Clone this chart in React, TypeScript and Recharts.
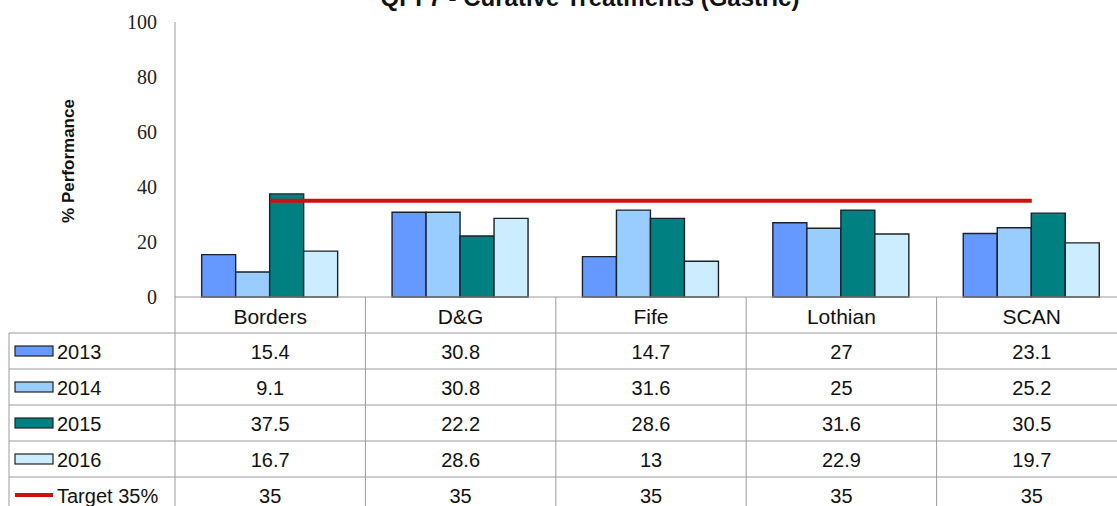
import React from 'react';
import { ComposedChart, Bar, Line, XAxis, YAxis } from 'recharts';

const categories = ['Borders', 'D&G', 'Fife', 'Lothian', 'SCAN'];
const v2013 = [15.4, 30.8, 14.7, 27, 23.1];
const v2014 = [9.1, 30.8, 31.6, 25, 25.2];
const v2015 = [37.5, 22.2, 28.6, 31.6, 30.5];
const v2016 = [16.7, 28.6, 13, 22.9, 19.7];
const target = [35, 35, 35, 35, 35];
const yTicks = [0, 20, 40, 60, 80, 100];

const seriesNames = ['2013', '2014', '2015', '2016', 'Target 35%'];
const seriesKeys = ['y2013', 'y2014', 'y2015', 'y2016', 'target'];
const seriesValues = [v2013, v2014, v2015, v2016, target];
const colors = ['#6699FF', '#99CCFF', '#008080', '#CCECFF', '#CC1111'];

const data = categories.map((name, i) => ({
  name,
  y2013: v2013[i],
  y2014: v2014[i],
  y2015: v2015[i],
  y2016: v2016[i],
  target: target[i],
}));

const CHART_W = 1130;
const CHART_H = 513;
const M_LEFT = 0;
const M_RIGHT = 3;
const Y_W = 175;
const ROW_H = 36;
const CAT_W = (CHART_W - M_LEFT - M_RIGHT - Y_W) / categories.length;
const TABLE_LEFT = 9;
const GRID = '#9a9a9a';
const FONT = '"Liberation Sans", Arial, sans-serif';

const HeaderTick = (props: any) => {
  const { x, y, payload, index } = props;
  const left = x - CAT_W / 2;
  const right = x + CAT_W / 2;
  return (
    <g>
      {index === 0 && <line x1={left} y1={y} x2={left} y2={y + ROW_H} stroke={GRID} strokeWidth={1} />}
      <line x1={right} y1={y} x2={right} y2={y + ROW_H} stroke={GRID} strokeWidth={1} />
      <text x={x} y={y + 19} textAnchor="middle" dominantBaseline="central" fontFamily={FONT} fontSize={21} fill="#111">
        {payload.value}
      </text>
    </g>
  );
};

const makeRowTick = (row: number) => (props: any) => {
  const { x, y, index } = props;
  const left = x - CAT_W / 2;
  const right = x + CAT_W / 2;
  const cy = y + ROW_H / 2;
  const val = seriesValues[row][index];
  return (
    <g>
      {index === 0 && (
        <g>
          <line x1={TABLE_LEFT} y1={y} x2={left} y2={y} stroke={GRID} strokeWidth={1} />
          <line x1={TABLE_LEFT} y1={y} x2={TABLE_LEFT} y2={y + ROW_H} stroke={GRID} strokeWidth={1} />
          <line x1={left} y1={y} x2={left} y2={y + ROW_H} stroke={GRID} strokeWidth={1} />
          {row < 4 ? (
            <rect x={15} y={cy - 5} width={38} height={10} fill={colors[row]} stroke="#222" strokeWidth={1.2} />
          ) : (
            <line x1={15} y1={cy} x2={53} y2={cy} stroke={colors[row]} strokeWidth={4} />
          )}
          <text x={57} y={cy + 1} textAnchor="start" dominantBaseline="central" fontFamily={FONT} fontSize={20} fill="#111">
            {seriesNames[row]}
          </text>
        </g>
      )}
      <line x1={right} y1={y} x2={right} y2={y + ROW_H} stroke={GRID} strokeWidth={1} />
      <text x={x} y={cy + 1} textAnchor="middle" dominantBaseline="central" fontFamily={FONT} fontSize={20} fill="#111">
        {String(val)}
      </text>
    </g>
  );
};

const rowTicks = [0, 1, 2, 3, 4].map((r) => makeRowTick(r));

const YLabel = () => (
  <text
    x={68}
    y={161}
    transform="rotate(-90, 68, 161)"
    textAnchor="middle"
    dominantBaseline="central"
    fontFamily={FONT}
    fontWeight="bold"
    fontSize={17}
    fill="#111"
  >
    % Performance
  </text>
);

export default function App() {
  return (
    <div style={{ position: 'absolute', left: 0, top: 0, width: 1117, height: 506, overflow: 'hidden', background: '#fff' }}>
      <div
        style={{
          position: 'absolute',
          left: 0,
          top: -14,
          width: 1180,
          textAlign: 'center',
          fontFamily: FONT,
          fontWeight: 'bold',
          fontSize: 24,
          lineHeight: '24px',
          color: '#111',
          whiteSpace: 'nowrap',
        }}
      >
        QPI 7 - Curative Treatments (Gastric)
      </div>
      <ComposedChart
        width={CHART_W}
        height={CHART_H}
        data={data}
        margin={{ top: 22, right: M_RIGHT, left: M_LEFT, bottom: 0 }}
        barCategoryGap="14%"
        barGap={0}
      >
        <YAxis
          width={Y_W}
          domain={[0, 100]}
          ticks={yTicks}
          interval={0}
          tickLine={false}
          tickSize={0}
          tickMargin={18}
          axisLine={{ stroke: GRID }}
          tick={{ fontFamily: '"Liberation Serif", "Times New Roman", serif', fontSize: 20, fill: '#222' }}
          label={{ content: () => <YLabel /> }}
        />
        <XAxis
          xAxisId="cat"
          dataKey="name"
          height={ROW_H}
          interval={0}
          tickLine={false}
          tickSize={0}
          tickMargin={0}
          axisLine={{ stroke: GRID }}
          tick={HeaderTick}
        />
        {rowTicks.map((t, r) => (
          <XAxis
            key={r}
            xAxisId={`row${r}`}
            dataKey="name"
            height={ROW_H}
            interval={0}
            tickLine={false}
            tickSize={0}
            tickMargin={0}
            axisLine={{ stroke: GRID }}
            tick={t}
          />
        ))}
        {seriesKeys.slice(0, 4).map((k, i) => (
          <Bar key={k} xAxisId="cat" dataKey={k} fill={colors[i]} stroke="#1a222a" strokeWidth={1.4} isAnimationActive={false} />
        ))}
        <Line
          xAxisId="cat"
          dataKey="target"
          type="linear"
          stroke={colors[4]}
          strokeWidth={4}
          dot={false}
          activeDot={false}
          isAnimationActive={false}
        />
      </ComposedChart>
    </div>
  );
}
